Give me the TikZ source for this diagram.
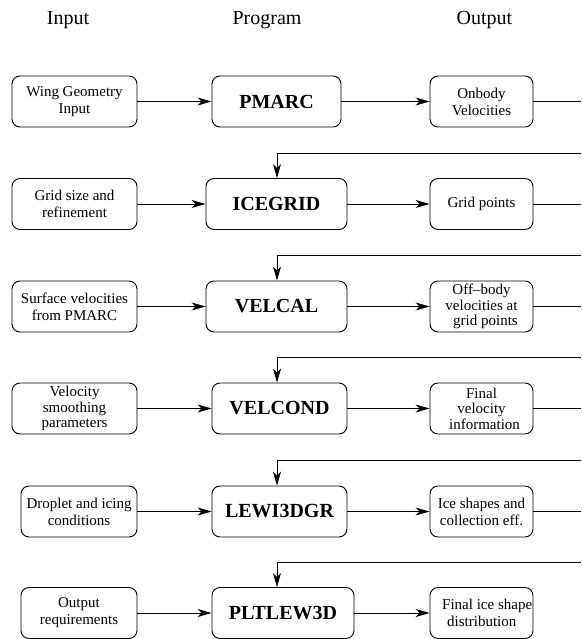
\documentclass[tikz,border=0pt]{standalone}
\usepackage{fontspec}
\setmainfont{Liberation Serif}
\usetikzlibrary{arrows.meta}
\begin{document}
\begin{tikzpicture}[x=1pt,y=-1pt,
  box/.style={draw, rounded corners=8pt, line width=0.9pt, inner sep=0pt,
    minimum height=51pt, align=center, font=\fontsize{15}{17}\selectfont},
  box3/.style={box, font=\fontsize{15}{15.5}\selectfont},
  prog/.style={box, font=\fontsize{20}{24}\selectfont\bfseries},
  head/.style={font=\fontsize{20}{24}\selectfont, anchor=base, inner sep=0pt},
  arr/.style={-{Stealth[length=14pt,width=8pt,inset=4pt]}, line width=0.9pt},
  ln/.style={line width=0.9pt}]
\useasboundingbox (0,0) rectangle (581,639);

% headers
\node[head] (hin) at (68,25) {Input};
\node[head] (hprog) at (267,25) {Program};
\node[head] (hout) at (484.5,25) {Output};

\coordinate (v) at (277,0);

% row 1
\node[box, minimum width=125pt] (i1) at (74.5,101.5) {Wing Geometry\\Input};
\node[prog, minimum width=129pt] (p1) at (276.5,101.5) {PMARC};
\node[box, minimum width=103pt] (o1) at (481.5,101.5) {Onbody\\Velocities};
\coordinate (e1) at (581,101.5);
\coordinate (r1) at (581,153);

% row 2
\node[box, minimum width=125pt] (i2) at (74.5,204) {Grid size and\\refinement};
\node[prog, minimum width=141pt] (p2) at (276.5,204) {ICEGRID};
\node[box, minimum width=103pt] (o2) at (481.5,204) {Grid points};
\coordinate (e2) at (581,204);
\coordinate (r2) at (581,255);

% row 3
\node[box, minimum width=125pt] (i3) at (74.5,306.5) {Surface velocities\\from PMARC};
\node[prog, minimum width=141pt] (p3) at (276.5,306.5) {VELCAL};
\node[box3, minimum width=103pt] (o3) at (481.5,306.5) {Off--body\\velocities at\\\hspace*{8pt}grid points};
\coordinate (e3) at (581,306.5);
\coordinate (r3) at (581,357);

% row 4
\node[box3, minimum width=125pt] (i4) at (74.5,408.5) {Velocity\\smoothing\\parameters};
\node[prog, minimum width=135pt] (p4) at (279.5,408.5) {VELCOND};
\node[box3, minimum width=103pt] (o4) at (481.5,408.5) {Final\\velocity\\\hspace*{6pt}information};
\coordinate (e4) at (581,408.5);
\coordinate (r4) at (581,460);

% row 5
\node[box, minimum width=116pt] (i5) at (79,511.5) {Droplet and icing\\conditions};
\node[prog, minimum width=135pt] (p5) at (279.5,511.5) {LEWI3DGR};
\node[box, minimum width=103pt] (o5) at (481.5,511.5) {Ice shapes and\\collection eff.};
\coordinate (e5) at (581,511.5);
\coordinate (r5) at (581,562);

% row 6
\node[box, minimum width=116pt] (i6) at (79,613) {Output\\requirements};
\node[prog, minimum width=142pt] (p6) at (283,613) {PLTLEW3D};
\node[box, minimum width=103pt] (o6) at (481.5,613) {};
\node[anchor=west, align=left, inner sep=0pt, font=\fontsize{15}{17}\selectfont] (t6) at (442,613)
  {Final ice shape\\\hspace*{5pt}distribution};

% connectors
\foreach \k in {1,...,6}{
  \draw[arr] (i\k) -- (p\k);
  \draw[arr] (p\k) -- (o\k);
}
\foreach \k in {1,...,5}{
  \draw[ln] (o\k.east) -- (e\k);
}
\draw[arr] (r1) -| (v |- p2.north);
\draw[arr] (r2) -| (v |- p3.north);
\draw[arr] (r3) -| (v |- p4.north);
\draw[arr] (r4) -| (v |- p5.north);
\draw[arr] (r5) -| (v |- p6.north);
\end{tikzpicture}
\end{document}
